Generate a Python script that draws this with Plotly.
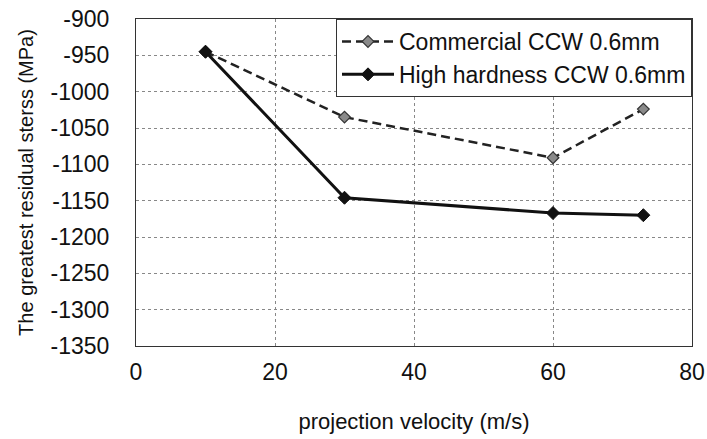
import plotly.graph_objects as go

velocity = [10, 30, 60, 73]
commercial = [-945, -1035, -1091, -1024]
high_hardness = [-945, -1146, -1167, -1170]
series_names = ["Commercial CCW 0.6mm", "High hardness CCW 0.6mm"]
x_ticks = [0, 20, 40, 60, 80]
y_ticks = [-900, -950, -1000, -1050, -1100, -1150, -1200, -1250, -1300, -1350]
y_tick_text = [str(v) for v in y_ticks]

FONT = "Liberation Sans, Arial, sans-serif"

fig = go.Figure()
fig.add_trace(go.Scatter(
    x=velocity, y=commercial, name=series_names[0], mode="lines+markers",
    line=dict(color="#222", width=2.5, dash="9px,5px"),
    marker=dict(symbol="diamond", size=9, color="#8a8a8a", line=dict(color="#333", width=1.2)),
    legendgroup="a",
))
fig.add_trace(go.Scatter(
    x=velocity, y=high_hardness, name=series_names[1], mode="lines+markers",
    line=dict(color="#111", width=3),
    marker=dict(symbol="diamond", size=10, color="#111", line=dict(color="#111", width=1)),
    legendgroup="b",
))

fig.update_layout(
    width=707, height=439,
    margin=dict(l=136, r=15, t=19, b=93, autoexpand=False),
    paper_bgcolor="white", plot_bgcolor="white",
    font=dict(family=FONT, size=23, color="#111"),
    showlegend=True,
    legend=dict(
        x=1, y=1, xanchor="right", yanchor="top",
        bgcolor="white", bordercolor="#333", borderwidth=1,
        font=dict(size=23), tracegroupgap=0, traceorder="grouped",
        itemwidth=52,
    ),
)
fig.update_xaxes(
    range=[0, 80], tickvals=x_ticks, ticks="", ticklabelstandoff=5, automargin=False,
    showline=True, mirror=True, linecolor="#333", linewidth=1,
    showgrid=True, gridcolor="#888", griddash="dot", gridwidth=1, zeroline=False,
    title=dict(text="projection velocity (m/s)", font=dict(size=22), standoff=30),
)
fig.update_yaxes(
    range=[-1350, -900], tickvals=y_ticks, ticktext=y_tick_text, ticks="", ticklabelstandoff=21,
    automargin=False,
    showline=True, mirror=True, linecolor="#333", linewidth=1,
    showgrid=True, gridcolor="#888", griddash="dot", gridwidth=1, zeroline=False,
    title=dict(text="The greatest residual sterss (MPa)", font=dict(size=20), standoff=11),
)

fig.write_html("out.html")
